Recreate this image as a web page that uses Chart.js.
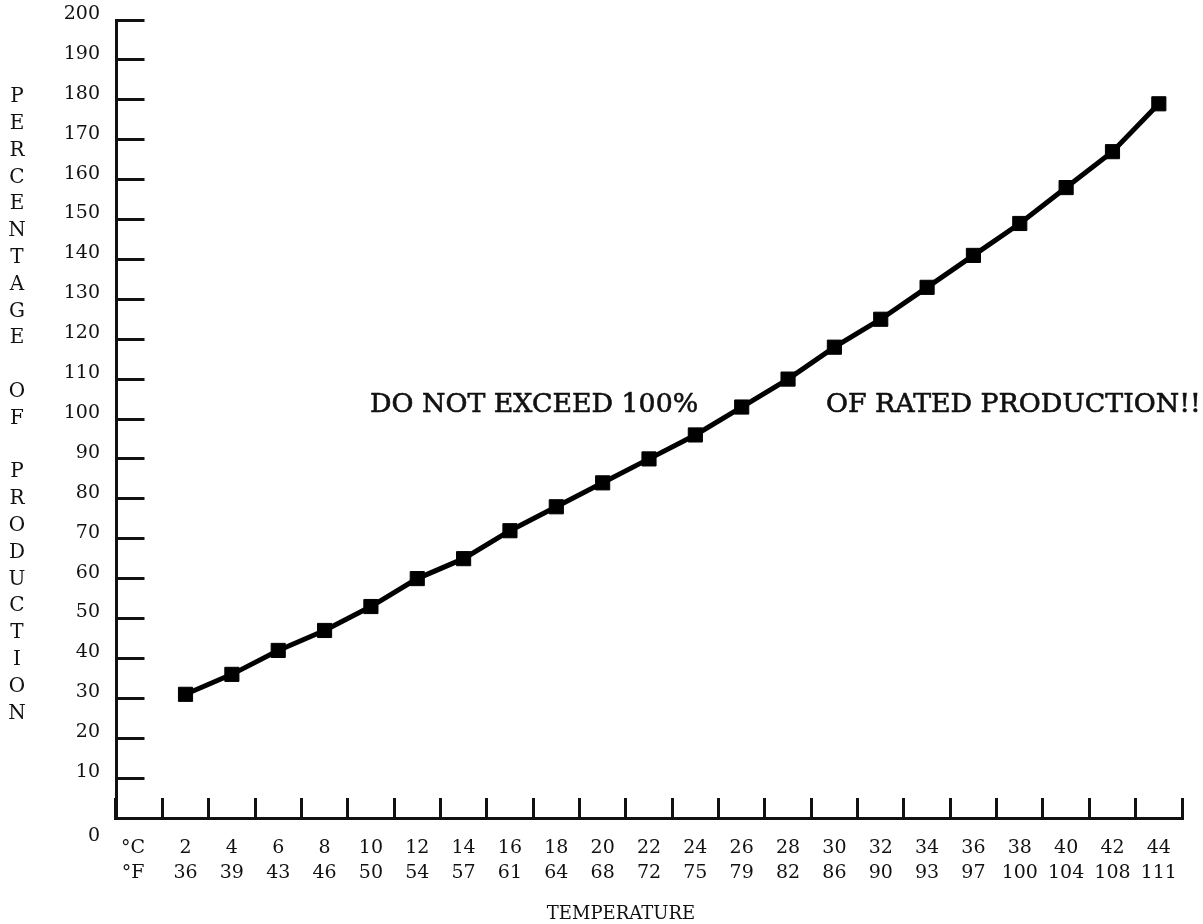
<!DOCTYPE html>
<html>
<head>
<meta charset="utf-8">
<title>Percentage of production vs temperature</title>
<script src="https://cdn.jsdelivr.net/npm/chart.js@4/dist/chart.umd.min.js"></script>
<style>
  body { margin: 0; background: #fff; }
  canvas { display: block; }
</style>
</head>
<body>
<canvas id="prodChart" width="1203" height="924"></canvas>
<script>
// first slot is the unit column, no data there
const celsius = ["°C  ", "2", "4", "6", "8", "10", "12", "14", "16", "18", "20", "22", "24", "26", "28", "30", "32", "34", "36", "38", "40", "42", "44"];
const fahrenheit = ["°F  ", "36", "39", "43", "46", "50", "54", "57", "61", "64", "68", "72", "75", "79", "82", "86", "90", "93", "97", "100", "104", "108", "111"];
const production = [null, 31, 36, 42, 47, 53, 60, 65, 72, 78, 84, 90, 96, 103, 110, 118, 125, 133, 141, 149, 158, 167, 179];

const yMin = 0;
const yMax = 200;
const yStep = 10;

const yTitle = "PERCENTAGE OF PRODUCTION";
const xTitle = "TEMPERATURE";
const noteLeft = "DO NOT EXCEED 100%";
const noteRight = "OF RATED PRODUCTION!!!";

const serif = "'DejaVu Serif', 'Liberation Serif', serif";
const ink = "#111";

const labels = celsius.map((c, i) => [c, fahrenheit[i]]);

// stacked y title, bottom title and the warning text
const textPlugin = {
  id: "chartText",
  afterDraw(chart) {
    const ctx = chart.ctx;
    const yScale = chart.scales.y;
    ctx.save();
    ctx.fillStyle = ink;
    ctx.textAlign = "center";
    ctx.textBaseline = "middle";

    ctx.font = "20px " + serif;
    const letters = yTitle.split("");
    for (let i = 0; i < letters.length; i++) {
      ctx.fillText(letters[i], 17, 97 + i * 26.8);
    }

    ctx.font = "18px " + serif;
    ctx.fillText(xTitle, 621, 914);

    ctx.font = "26.8px " + serif;
    ctx.textAlign = "left";
    ctx.textBaseline = "alphabetic";
    ctx.strokeStyle = ink;
    ctx.lineWidth = 0.6;
    const noteY = yScale.getPixelForValue(101.8);
    ctx.fillText(noteLeft, 370, noteY);
    ctx.strokeText(noteLeft, 370, noteY);
    ctx.fillText(noteRight, 826, noteY);
    ctx.strokeText(noteRight, 826, noteY);
    ctx.restore();
  }
};

// keep the plot box where the reference has it
function noPadding(scale) {
  scale.paddingTop = 0;
  scale.paddingBottom = 0;
  scale.paddingLeft = 0;
  scale.paddingRight = 0;
}

const ctx = document.getElementById("prodChart").getContext("2d");
const chart = new Chart(ctx, {
  type: "line",
  data: {
    labels: labels,
    datasets: [{
      data: production,
      borderColor: "#000",
      backgroundColor: "#000",
      borderWidth: 5,
      tension: 0,
      pointStyle: "rect",
      pointRadius: 10,
      pointBorderWidth: 1,
      pointBorderColor: "#000",
      pointBackgroundColor: "#000",
      clip: false
    }]
  },
  options: {
    responsive: false,
    animation: false,
    layout: { padding: { top: 20, right: 21, left: 0, bottom: 0 } },
    plugins: {
      legend: { display: false },
      tooltip: { enabled: false }
    },
    scales: {
      x: {
        type: "category",
        offset: true,
        afterFit(scale) { scale.height = 106; noPadding(scale); },
        border: { display: true, color: "#111", width: 3 },
        grid: {
          offset: true,
          drawOnChartArea: false,
          drawTicks: true,
          tickLength: -20,
          color: "#111",
          lineWidth: 3
        },
        ticks: {
          autoSkip: false,
          maxRotation: 0,
          padding: 38,
          color: ink,
          font: { family: serif, size: 19, lineHeight: 25 / 19 }
        }
      },
      y: {
        min: yMin,
        max: yMax,
        afterFit(scale) { scale.width = 116; noPadding(scale); },
        border: { display: true, color: "#111", width: 3 },
        grid: {
          drawOnChartArea: false,
          drawTicks: true,
          tickLength: -28.5,
          color: "#111",
          lineWidth: 3
        },
        ticks: {
          stepSize: yStep,
          autoSkip: false,
          padding: 44.5,
          labelOffset: -6,
          color: ink,
          font: { family: serif, size: 19, lineHeight: 1.27 },
          // the zero sits below the corner, not beside it
          callback: (v) => v === 0 ? ["", "", "0"] : String(v)
        }
      }
    }
  },
  plugins: [textPlugin]
});
</script>
</body>
</html>
